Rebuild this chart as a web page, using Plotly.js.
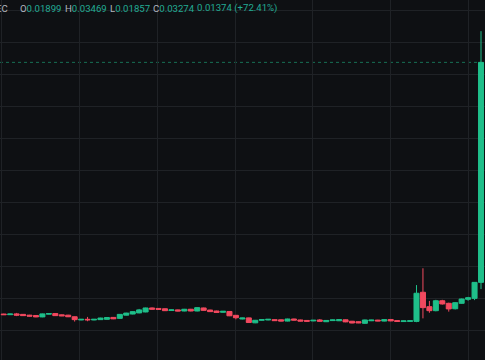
<!DOCTYPE html>
<html>
<head>
<meta charset="utf-8">
<script src="https://cdn.plot.ly/plotly-3.0.1.min.js"></script>
<style>html,body{margin:0;padding:0;background:#0e1013;}#chart{width:485px;height:360px;}</style>
</head>
<body>
<div id="chart"></div>
<script>
// candle index (time order)
const idx = Array.from({length: 75}, (_, i) => i);
const opens = [
0.01701,0.01697,0.01702,0.01699,0.01694,0.01692,0.01683,0.01700,0.01704,0.01696,
0.01694,0.01684,0.01664,0.01668,0.01664,0.01666,0.01668,0.01680,0.01674,0.01694,
0.01701,0.01708,0.01714,0.01739,0.01736,0.01734,0.01723,0.01727,0.01720,0.01731,
0.01720,0.01739,0.01726,0.01720,0.01712,0.01717,0.01693,0.01670,0.01677,0.01646,
0.01662,0.01664,0.01666,0.01665,0.01657,0.01670,0.01664,0.01661,0.01658,0.01664,
0.01653,0.01660,0.01659,0.01665,0.01656,0.01653,0.01643,0.01659,0.01663,0.01657,
0.01667,0.01660,0.01654,0.01655,0.01655,0.01837,0.01747,0.01722,0.01784,0.01768,
0.01734,0.01768,0.01793,0.01799,0.01899];
const highs = [
0.01703,0.01703,0.01708,0.01701,0.01696,0.01694,0.01704,0.01706,0.01706,0.01698,
0.01696,0.01686,0.01670,0.01683,0.01670,0.01678,0.01681,0.01682,0.01701,0.01709,
0.01718,0.01733,0.01741,0.01742,0.01738,0.01736,0.01729,0.01729,0.01733,0.01733,
0.01743,0.01741,0.01728,0.01722,0.01720,0.01719,0.01695,0.01678,0.01679,0.01664,
0.01668,0.01670,0.01668,0.01667,0.01672,0.01672,0.01666,0.01663,0.01664,0.01670,
0.01663,0.01666,0.01670,0.01667,0.01658,0.01655,0.01666,0.01665,0.01665,0.01668,
0.01669,0.01662,0.01660,0.01661,0.01882,0.01987,0.01783,0.01790,0.01790,0.01772,
0.01775,0.01798,0.01808,0.01900,0.03469];
const lows = [
0.01695,0.01695,0.01688,0.01689,0.01686,0.01681,0.01681,0.01698,0.01689,0.01688,
0.01682,0.01654,0.01662,0.01656,0.01662,0.01664,0.01666,0.01669,0.01672,0.01692,
0.01699,0.01706,0.01712,0.01729,0.01728,0.01720,0.01721,0.01718,0.01718,0.01718,
0.01718,0.01722,0.01714,0.01709,0.01710,0.01688,0.01668,0.01668,0.01646,0.01644,
0.01660,0.01662,0.01658,0.01655,0.01655,0.01661,0.01655,0.01654,0.01656,0.01654,
0.01651,0.01658,0.01657,0.01650,0.01643,0.01644,0.01640,0.01657,0.01656,0.01655,
0.01656,0.01653,0.01652,0.01653,0.01650,0.01674,0.01709,0.01718,0.01760,0.01716,
0.01730,0.01765,0.01784,0.01788,0.01857];
const closes = [
0.01697,0.01701,0.01694,0.01691,0.01688,0.01683,0.01702,0.01704,0.01691,0.01690,
0.01684,0.01666,0.01668,0.01665,0.01668,0.01676,0.01679,0.01671,0.01699,0.01707,
0.01716,0.01727,0.01739,0.01731,0.01730,0.01722,0.01727,0.01720,0.01731,0.01720,
0.01741,0.01724,0.01716,0.01711,0.01718,0.01690,0.01678,0.01676,0.01648,0.01662,
0.01666,0.01668,0.01660,0.01657,0.01670,0.01663,0.01657,0.01656,0.01662,0.01656,
0.01661,0.01664,0.01666,0.01652,0.01645,0.01646,0.01664,0.01663,0.01658,0.01666,
0.01658,0.01655,0.01658,0.01659,0.01831,0.01741,0.01722,0.01784,0.01764,0.01733,
0.01772,0.01795,0.01803,0.01899,0.03274];
const priceGrid = [0.014,0.016,0.018,0.020,0.022,0.024,0.026,0.028,0.030,0.032,0.034,0.036];
const timeGrid = [-0.3, 11.7, 23.8, 36.0, 47.95, 59.9, 72.1];
const symbolLabel = "EC";
const legendLetters = ["O", "H", "L", "C"];
const legendValues = ["0.01899", "0.03469", "0.01857", "0.03274"];
const changeText = "0.01374 (+72.41%)";

const UP = "#1fbf8a", DOWN = "#f2495f", GRID = "#1f2226", BG = "#0e1013";
const TXT = "#22ab94", LBL = "#b2b5be";
const last = closes[closes.length - 1];

const trace = {
  type: "candlestick",
  x: idx, open: opens, high: highs, low: lows, close: closes,
  increasing: {line: {color: UP, width: 1}, fillcolor: UP},
  decreasing: {line: {color: DOWN, width: 1}, fillcolor: DOWN},
  whiskerwidth: 0,
  hoverinfo: "skip"
};

const font = {family: "Roboto, sans-serif", size: 9.6, color: TXT};
const ty = 1 - 8/360;
const annotations = [
  {xref: "paper", yref: "paper", x: -5/485, y: ty, xanchor: "left", yanchor: "middle", borderpad: 0,
   text: symbolLabel, showarrow: false, font: Object.assign({}, font, {color: LBL})}
];
const groupX = [19, 64, 109, 152];
legendLetters.forEach((l, i) => {
  annotations.push({xref: "paper", yref: "paper", x: groupX[i]/485, y: ty, xanchor: "left", yanchor: "middle",
    borderpad: 0, showarrow: false, font: font,
    text: '<span style="color:' + LBL + '">' + l + '</span>' + legendValues[i]});
});
annotations.push({xref: "paper", yref: "paper", x: 196/485, y: ty, xanchor: "left", yanchor: "middle",
  borderpad: 0, showarrow: false, font: font, text: changeText});

const layout = {
  width: 485, height: 360,
  margin: {l: 0, r: 0, t: 0, b: 0, pad: 0},
  paper_bgcolor: BG, plot_bgcolor: BG,
  showlegend: false,
  boxgap: 0, boxgroupgap: 0.22,
  xaxis: {range: [-0.574, 74.62], tickvals: timeGrid, showticklabels: false, showgrid: true,
          gridcolor: GRID, gridwidth: 1, zeroline: false, showline: false, rangeslider: {visible: false}, fixedrange: true},
  yaxis: {range: [0.0141375, 0.0366375], tickvals: priceGrid, showticklabels: false, showgrid: true,
          gridcolor: GRID, gridwidth: 1, zeroline: false, showline: false, fixedrange: true},
  shapes: [{type: "line", xref: "x", x0: idx[0] - 0.574, x1: idx[idx.length - 1], yref: "y", y0: last, y1: last,
            line: {color: UP, width: 1, dash: "dot"}, opacity: 0.55, layer: "below"}],
  annotations: annotations
};

Plotly.newPlot("chart", [trace], layout, {staticPlot: true, displayModeBar: false});
</script>
</body>
</html>
